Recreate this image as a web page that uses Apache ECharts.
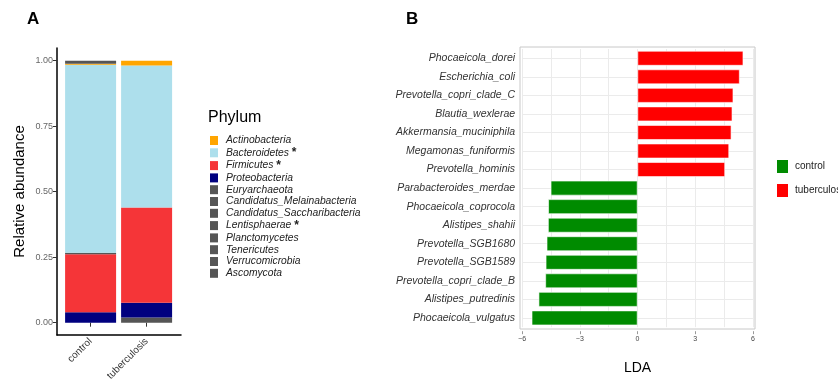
<!DOCTYPE html>
<html><head><meta charset="utf-8">
<script src="https://cdn.jsdelivr.net/npm/echarts@6/dist/echarts.min.js"></script>
<style>html,body{margin:0;padding:0;background:#fff}#c{width:838px;height:392px}</style>
</head><body><div id="c"></div>
<script>
// Panel A data
const groups = ['control', 'tuberculosis'];
const phylumLegendOrder = ['Actinobacteria','Bacteroidetes','Firmicutes','Proteobacteria','Euryarchaeota','Candidatus_Melainabacteria','Candidatus_Saccharibacteria','Lentisphaerae','Planctomycetes','Tenericutes','Verrucomicrobia','Ascomycota'];
const starred = ['Bacteroidetes','Firmicutes','Lentisphaerae'];
// stacking order bottom -> top
const stackOrder = ['Euryarchaeota','Proteobacteria','Firmicutes','Lentisphaerae','Bacteroidetes','Actinobacteria','Candidatus_Melainabacteria','Candidatus_Saccharibacteria','Planctomycetes','Tenericutes','Verrucomicrobia','Ascomycota'];
const abundance = {
  Euryarchaeota: [0, 0.02],
  Proteobacteria: [0.04, 0.056],
  Firmicutes: [0.221, 0.364],
  Lentisphaerae: [0.006, 0],
  Bacteroidetes: [0.718, 0.542],
  Actinobacteria: [0.003, 0.018],
  Candidatus_Melainabacteria: [0, 0],
  Candidatus_Saccharibacteria: [0, 0],
  Planctomycetes: [0, 0],
  Tenericutes: [0, 0],
  Verrucomicrobia: [0, 0],
  Ascomycota: [0.012, 0]
};
const phylumColors = {
  Actinobacteria: '#FFA500', Bacteroidetes: '#ADDFEC', Firmicutes: '#F53538', Proteobacteria: '#00007F'
};
const otherColor = '#555555';
const yTicksA = [0, 0.25, 0.5, 0.75, 1];

// Panel B data
const taxa = ['Phocaeicola_dorei','Escherichia_coli','Prevotella_copri_clade_C','Blautia_wexlerae','Akkermansia_muciniphila','Megamonas_funiformis','Prevotella_hominis','Parabacteroides_merdae','Phocaeicola_coprocola','Alistipes_shahii','Prevotella_SGB1680','Prevotella_SGB1589','Prevotella_copri_clade_B','Alistipes_putredinis','Phocaeicola_vulgatus'];
const ldaTuberculosis = [5.50, 5.31, 4.98, 4.93, 4.88, 4.76, 4.55, null, null, null, null, null, null, null, null];
const ldaControl = [null, null, null, null, null, null, null, -4.51, -4.64, -4.65, -4.72, -4.77, -4.79, -5.14, -5.50];
const ldaTicks = [-6, -3, 0, 3, 6];

const FONT = 'Liberation Sans, Arial, sans-serif';
const chart = echarts.init(document.getElementById('c'));

const seriesA = stackOrder.map(name => ({
  name: name, type: 'bar', stack: 'a', xAxisIndex: 0, yAxisIndex: 0,
  barWidth: 51,
  itemStyle: { color: phylumColors[name] || otherColor },
  data: abundance[name],
  silent: true
}));

const option = {
  animation: false,
  textStyle: { fontFamily: FONT },
  title: [
    { text: 'A', left: 22, top: 6, textStyle: { fontSize: 17, fontWeight: 'bold', color: '#000', fontFamily: FONT } },
    { text: 'B', left: 401, top: 6, textStyle: { fontSize: 17, fontWeight: 'bold', color: '#000', fontFamily: FONT } },
    { text: 'Phylum', left: 203, top: 105, textStyle: { fontSize: 16, fontWeight: 'normal', color: '#000', fontFamily: FONT } }
  ],
  legend: [
    {
      data: phylumLegendOrder, orient: 'vertical', left: 205, top: 130,
      icon: 'rect', itemWidth: 8, itemHeight: 9, itemGap: 0.8, selectedMode: false,
      formatter: n => starred.includes(n) ? '{t|' + n + '} {s|*}' : '{t|' + n + '}',
      textStyle: { fontSize: 10.3, fontStyle: 'italic', color: '#222', fontFamily: FONT, lineHeight: 11, padding: [0,0,0,3],
        rich: {
          t: { fontSize: 10.3, fontStyle: 'italic', color: '#222', fontFamily: FONT, lineHeight: 11 },
          s: { fontSize: 12, fontStyle: 'normal', fontWeight: 'bold', color: '#222', fontFamily: FONT, lineHeight: 11 }
        } }
    },
    {
      data: ['control', 'tuberculosis'], orient: 'vertical', left: 770, top: 153,
      icon: 'rect', itemWidth: 13, itemHeight: 15, itemGap: 7, selectedMode: false,
      textStyle: { fontSize: 10, color: '#222', fontFamily: FONT, padding: [0,0,0,1] }
    }
  ],
  grid: [
    { left: 62.6, top: 60.7, width: 112, height: 262 },
    { left: 57, top: 48, width: 124, height: 287 },
    { left: 522.1, top: 49, width: 230.8, height: 278.2 },
    { left: 520, top: 47, width: 235, height: 282, show: true, borderColor: '#c8c8c8', borderWidth: 1, backgroundColor: 'transparent' }
  ],
  xAxis: [
    { gridIndex: 0, type: 'category', data: groups, offset: 12,
      axisLine: { show: false },
      axisTick: { show: true, alignWithLabel: true, length: 4, lineStyle: { color: '#333' } },
      axisLabel: { rotate: 45, fontSize: 10, color: '#333', margin: 5, fontFamily: FONT } },
    { gridIndex: 1, type: 'value', min: 0, max: 1, axisLine: { show: true, onZero: false, lineStyle: { color: '#000', width: 1.5 } },
      axisTick: { show: false }, axisLabel: { show: false }, splitLine: { show: false } },
    { gridIndex: 2, type: 'value', min: -6, max: 6, interval: 3, offset: 4,
      name: 'LDA', nameLocation: 'middle', nameGap: 30, nameTextStyle: { fontSize: 14, color: '#000', fontFamily: FONT },
      axisLine: { show: false },
      axisTick: { show: true, length: 3, lineStyle: { color: '#999' } },
      axisLabel: { fontSize: 7, color: '#444', margin: 4, fontFamily: FONT, formatter: v => ldaTicks.includes(v) ? String(v).replace('-', '\u2212') : '' },
      splitLine: { show: true, lineStyle: { color: '#ebebeb', width: 1 } },
      minorTick: { show: false, splitNumber: 2 },
      minorSplitLine: { show: true, lineStyle: { color: '#ebebeb', width: 1 } } },
    { gridIndex: 3, type: 'value', show: false, min: 0, max: 1 }
  ],
  yAxis: [
    { gridIndex: 0, type: 'value', min: 0, max: 1, interval: 0.25, offset: 5.6,
      axisLine: { show: false },
      axisTick: { show: true, length: 4, lineStyle: { color: '#333' } },
      axisLabel: { fontSize: 9, color: '#666', margin: 4, fontFamily: FONT, formatter: v => yTicksA.includes(v) ? v.toFixed(2) : '' },
      splitLine: { show: false } },
    { gridIndex: 1, type: 'value', min: 0, max: 1,
      name: 'Relative abundance', nameLocation: 'middle', nameGap: 30, nameTextStyle: { fontSize: 15, color: '#000', fontFamily: FONT },
      axisLine: { show: true, lineStyle: { color: '#000', width: 1.5 } },
      axisTick: { show: false }, axisLabel: { show: false }, splitLine: { show: false } },
    { gridIndex: 2, type: 'category', data: taxa, inverse: true,
      axisLine: { show: false }, axisTick: { show: false },
      axisLabel: { fontSize: 10.5, fontStyle: 'italic', color: '#333', margin: 7, fontFamily: FONT },
      splitLine: { show: true, alignWithLabel: true, lineStyle: { color: '#ebebeb', width: 1 } } },
    { gridIndex: 3, type: 'value', show: false, min: 0, max: 1 }
  ],
  series: seriesA.concat([
    { name: 'control', type: 'bar', xAxisIndex: 2, yAxisIndex: 2, data: ldaControl, barWidth: '79%', barGap: '-100%',
      itemStyle: { color: '#008B00', borderColor: '#ffffff', borderWidth: 0.6 } },
    { name: 'tuberculosis', type: 'bar', xAxisIndex: 2, yAxisIndex: 2, data: ldaTuberculosis, barWidth: '79%', barGap: '-100%',
      itemStyle: { color: '#FF0000', borderColor: '#ffffff', borderWidth: 0.6 } }
  ])
};
chart.setOption(option);
</script>
</body></html>
